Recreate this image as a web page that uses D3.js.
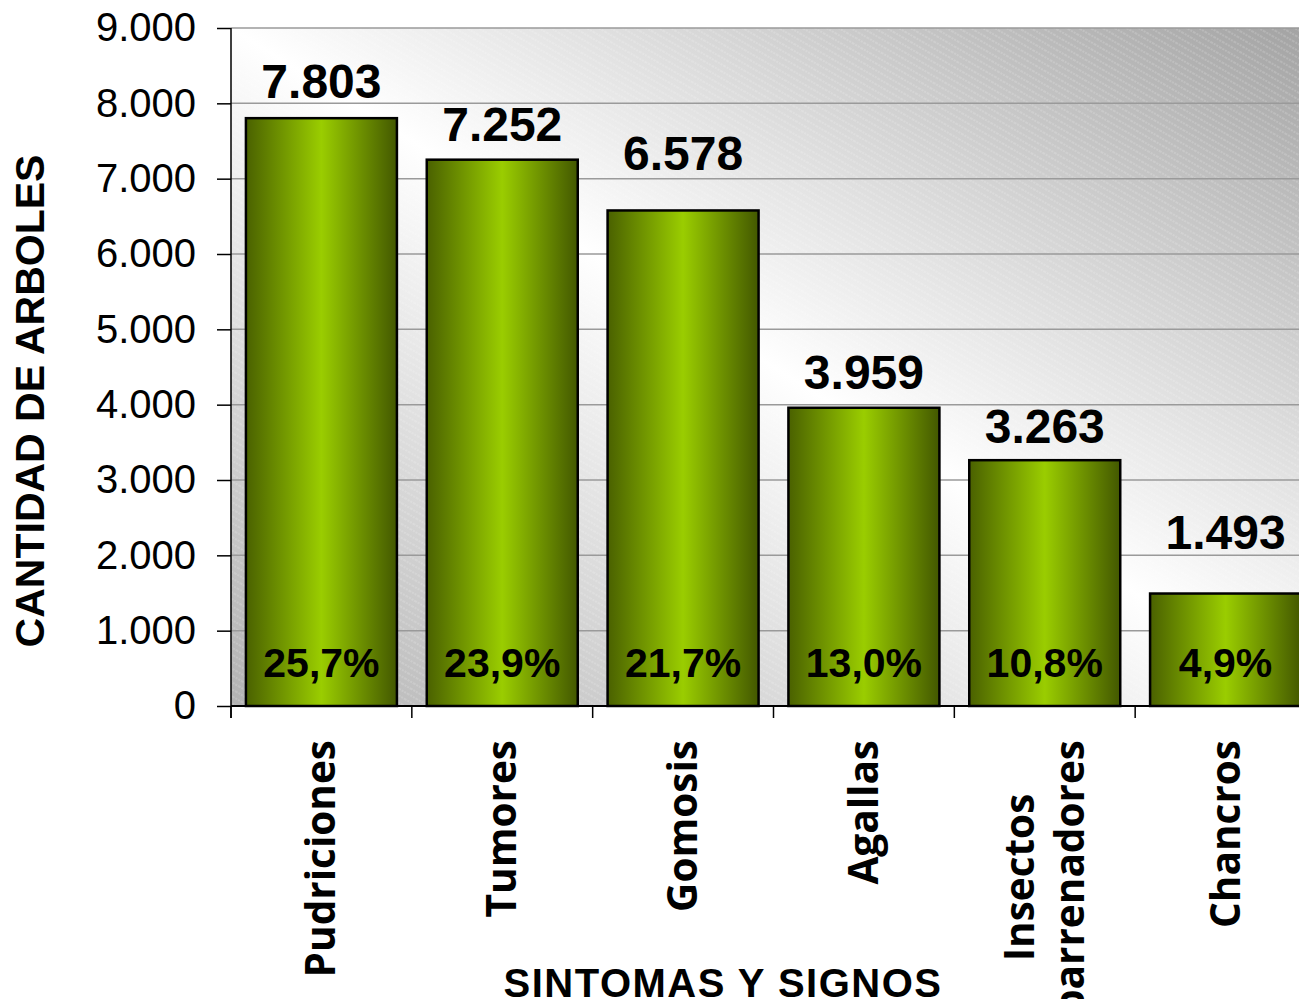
<!DOCTYPE html>
<html>
<head>
<meta charset="utf-8">
<script src="https://cdn.jsdelivr.net/npm/d3@7"></script>
<style>
  html, body { margin: 0; padding: 0; background: #ffffff; }
  svg { display: block; }
</style>
</head>
<body>
<svg id="chart" width="1299" height="999"></svg>
<script>
// ---- data ----
const categories = ["Pudriciones", "Tumores", "Gomosis", "Agallas", "Insectos\nbarrenadores", "Chancros"];
const values = [7803, 7252, 6578, 3959, 3263, 1493];
const percents = [25.7, 23.9, 21.7, 13.0, 10.8, 4.9];
const yTicks = [0, 1000, 2000, 3000, 4000, 5000, 6000, 7000, 8000, 9000];
const yTitle = "CANTIDAD DE ARBOLES";
const xTitle = "SINTOMAS Y SIGNOS";

// ---- layout ----
const plot = { left: 231, top: 28, bottom: 706, width: 1085 };
const valueLabelGaps = [20, 19, 40, 19, 17, 45]; // px above bar top (as placed in the original)
const svg = d3.select("#chart");
const locale = d3.formatLocale({ decimal: ",", thousands: ".", grouping: [3], currency: ["", ""] });
const fmtInt = locale.format(",d");
const fmtPct = locale.format(".1f");

const x = d3.scaleBand()
  .domain(categories)
  .range([plot.left, plot.left + plot.width])
  .paddingInner(0.165)
  .paddingOuter(0.0825);
const y = d3.scaleLinear().domain([0, 9000]).range([plot.bottom, plot.top]);

const defs = svg.append("defs");
const bg = defs.append("linearGradient").attr("id", "bgGrad")
  .attr("x1", 0).attr("y1", 1).attr("x2", 1).attr("y2", 0);
bg.append("stop").attr("offset", 0).attr("stop-color", "#b2b2b2");
bg.append("stop").attr("offset", 0.5).attr("stop-color", "#ffffff");
bg.append("stop").attr("offset", 1).attr("stop-color", "#a2a2a2");

const pat = defs.append("pattern").attr("id", "hatch")
  .attr("patternUnits", "userSpaceOnUse").attr("width", 10).attr("height", 6)
  .attr("patternTransform", "rotate(30)");
pat.append("line").attr("x1", 0).attr("y1", 1).attr("x2", 10).attr("y2", 1)
  .attr("stroke", "#ffffff").attr("stroke-opacity", 0.3).attr("stroke-width", 1)
  .attr("stroke-dasharray", "2,1");

const bar = defs.append("linearGradient").attr("id", "barGrad")
  .attr("x1", 0).attr("y1", 0).attr("x2", 1).attr("y2", 0);
bar.append("stop").attr("offset", 0).attr("stop-color", "#4a6100");
bar.append("stop").attr("offset", 0.5).attr("stop-color", "#9acd00");
bar.append("stop").attr("offset", 1).attr("stop-color", "#435800");

// plot background
svg.append("rect")
  .attr("x", plot.left).attr("y", plot.top)
  .attr("width", plot.width).attr("height", plot.bottom - plot.top)
  .attr("fill", "url(#bgGrad)");
svg.append("rect")
  .attr("x", plot.left).attr("y", plot.top)
  .attr("width", plot.width).attr("height", plot.bottom - plot.top)
  .attr("fill", "url(#hatch)");

// gridlines
svg.append("g")
  .selectAll("line")
  .data(yTicks.filter(d => d > 0))
  .join("line")
  .attr("x1", plot.left).attr("x2", plot.left + plot.width)
  .attr("y1", d => y(d)).attr("y2", d => y(d))
  .attr("stroke", "#9a9a9a").attr("stroke-width", 1.5);

// bars
svg.append("g")
  .selectAll("rect")
  .data(values)
  .join("rect")
  .attr("x", (d, i) => x(categories[i]))
  .attr("y", d => y(d))
  .attr("width", x.bandwidth())
  .attr("height", d => y(0) - y(d))
  .attr("fill", "url(#barGrad)")
  .attr("stroke", "#000").attr("stroke-width", 2.5);

// y axis
const yAxis = svg.append("g")
  .attr("transform", `translate(${plot.left},0)`)
  .call(d3.axisLeft(y).tickValues(yTicks).tickFormat(d => fmtInt(d)).tickSize(14).tickPadding(21));
yAxis.select(".domain").attr("stroke", "#000").attr("stroke-width", 1.5)
  .attr("d", `M0,${plot.top}V${plot.bottom + 12}`);
yAxis.selectAll(".tick line").attr("stroke", "#000").attr("stroke-width", 1.5);
yAxis.selectAll(".tick text")
  .attr("font-family", "'Liberation Sans', Arial, sans-serif")
  .attr("font-size", 40).attr("fill", "#000");

// x axis (baseline + ticks at band boundaries)
const step = x.step();
svg.append("line")
  .attr("x1", plot.left).attr("x2", plot.left + plot.width)
  .attr("y1", plot.bottom).attr("y2", plot.bottom)
  .attr("stroke", "#000").attr("stroke-width", 2);
svg.append("g")
  .selectAll("line")
  .data(categories)
  .join("line")
  .attr("x1", (d, i) => plot.left + i * step)
  .attr("x2", (d, i) => plot.left + i * step)
  .attr("y1", plot.bottom).attr("y2", plot.bottom + 12)
  .attr("stroke", "#000").attr("stroke-width", 1.5);

// value labels
svg.append("g")
  .selectAll("text")
  .data(values)
  .join("text")
  .attr("x", (d, i) => x(categories[i]) + x.bandwidth() / 2)
  .attr("y", (d, i) => y(d) - valueLabelGaps[i])
  .attr("text-anchor", "middle")
  .attr("font-family", "'Liberation Sans', Arial, sans-serif")
  .attr("font-weight", "bold").attr("font-size", 48).attr("fill", "#000")
  .text(d => fmtInt(d));

// percent labels
svg.append("g")
  .selectAll("text")
  .data(percents)
  .join("text")
  .attr("x", (d, i) => x(categories[i]) + x.bandwidth() / 2)
  .attr("y", y(0) - 29)
  .attr("text-anchor", "middle")
  .attr("font-family", "'Liberation Sans', Arial, sans-serif")
  .attr("font-weight", "bold").attr("font-size", 41).attr("fill", "#000")
  .text(d => fmtPct(d) + "%");

// category labels (rotated)
const catG = svg.append("g");
categories.forEach((c, i) => {
  const lines = c.split("\n");
  const cx = x(c) + x.bandwidth() / 2;
  const g = catG.append("g");
  const lh = 50;
  const texts = lines.map((ln, j) => g.append("text")
    .attr("font-family", "'Open Sans', sans-serif")
    .attr("font-weight", "bold").attr("font-size", 40.5).attr("fill", "#000")
    .attr("text-anchor", "middle")
    .text(ln));
  const maxLen = d3.max(texts, t => t.node().getComputedTextLength());
  const yc = 740 + maxLen / 2;
  texts.forEach((t, j) => {
    const off = (j - (lines.length - 1) / 2) * lh;
    const bx = cx + off + 14;
    t.attr("transform", `translate(${bx},${yc}) rotate(-90)`);
  });
});

// axis titles
svg.append("text")
  .attr("transform", `translate(44,401) rotate(-90)`)
  .attr("text-anchor", "middle")
  .attr("font-family", "'Liberation Sans', Arial, sans-serif")
  .attr("font-weight", "bold").attr("font-size", 41).attr("fill", "#000")
  .text(yTitle);

svg.append("text")
  .attr("x", 723).attr("y", 997)
  .attr("text-anchor", "middle")
  .attr("font-family", "'Liberation Sans', Arial, sans-serif")
  .attr("font-weight", "bold").attr("font-size", 40).attr("fill", "#000")
  .attr("letter-spacing", 1.5)
  .text(xTitle);
</script>
</body>
</html>
